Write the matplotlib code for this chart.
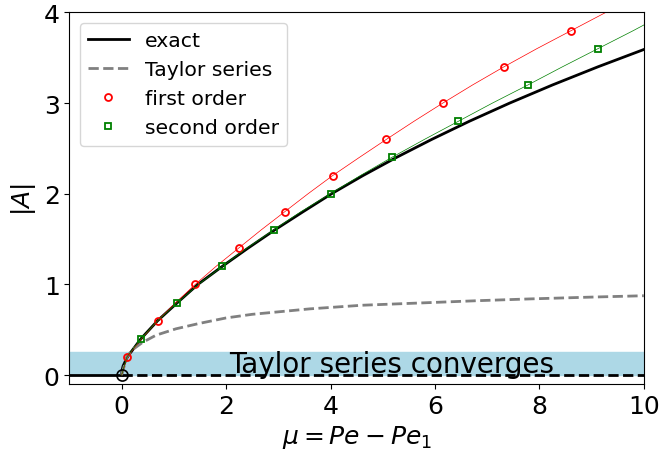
# %% load libraries
import numpy as np
import matplotlib.pyplot as plt

# %% data
# exact amplitude: |A| levels and the mu where the curve reaches them
exact_A = [0.0, 0.05, 0.1, 0.2, 0.4, 0.6, 0.8, 1.0, 1.2, 1.4, 1.6, 1.8,
           2.0, 2.2, 2.4, 2.6, 2.8, 3.0, 3.2, 3.4, 3.6]
exact_mu = [0.0, 0.007, 0.028, 0.11, 0.37, 0.69, 1.07, 1.46, 1.93, 2.42,
            2.93, 3.47, 4.02, 4.62, 5.26, 5.94, 6.66, 7.43, 8.25, 9.12,
            10.04]

# Taylor series (mu, |A|)
taylor_mu = [0.0, 0.1, 0.21, 0.4, 0.66, 1.04, 1.49, 2.0, 2.5, 3.6, 4.6,
             5.71, 6.8, 7.82, 9.0, 10.0]
taylor_A = [0.0, 0.2, 0.28, 0.36, 0.44, 0.51, 0.57, 0.63, 0.67, 0.73, 0.77,
            0.795, 0.82, 0.84, 0.86, 0.875]

# first order: |A| levels and mu
first_A = [0.0, 0.2, 0.4, 0.6, 0.8, 1.0, 1.2, 1.4, 1.6, 1.8, 2.0,
           2.2, 2.4, 2.6, 2.8, 3.0, 3.2, 3.4, 3.6, 3.8, 4.0]
first_mu = [0.0, 0.11, 0.38, 0.69, 1.04, 1.41, 1.81, 2.24, 2.67, 3.12, 3.57,
            4.04, 4.55, 5.07, 5.6, 6.15, 6.72, 7.32, 7.95, 8.61, 9.27]

# second order: |A| levels and mu
second_A = [0.0, 0.2, 0.4, 0.6, 0.8, 1.0, 1.2, 1.4, 1.6, 1.8, 2.0,
            2.2, 2.4, 2.6, 2.8, 3.0, 3.2, 3.4, 3.6, 3.8, 4.0]
second_mu = [0.0, 0.1, 0.37, 0.69, 1.07, 1.47, 1.93, 2.4, 2.91, 3.43, 4.0,
             4.57, 5.17, 5.8, 6.45, 7.1, 7.78, 8.44, 9.12, 9.8, 10.45]

# trivial branch
trivial_mu_stable = [-1.0, 0.0]
trivial_mu_unstable = [0.0, 10.0]

band_top = 0.25

# %% figure
fig, ax = plt.subplots(figsize=(6.61, 4.64), dpi=100)
fig.subplots_adjust(left=0.105, right=0.974, top=0.971, bottom=0.170)

ax.axhspan(0, band_top, color='lightblue', zorder=0)
ax.text(2.05, 0.03, 'Taylor series converges', fontsize=20, zorder=1)

ax.plot(trivial_mu_stable, [0, 0], 'k-', lw=2)
ax.plot(trivial_mu_unstable, [0, 0], 'k--', lw=2)

ax.plot(exact_mu, exact_A, 'k-', lw=2, label='exact')
ax.plot(taylor_mu, taylor_A, '--', color='gray', lw=2, label='Taylor series')

ax.plot(first_mu, first_A, 'r-', lw=0.5)
ax.plot(first_mu[1::2], first_A[1::2], 'o', color='r', mfc='none',
        ms=5, mew=1.3, ls='none', label='first order')
ax.plot(second_mu, second_A, 'g-', lw=0.5)
ax.plot(second_mu[2::2], second_A[2::2], 's', color='g', mfc='none',
        ms=5, mew=1.3, ls='none', label='second order')

ax.plot([0], [0], 'o', color='k', mfc='none', ms=8, mew=1.2)

ax.set_xlim(-1, 10)
ax.set_ylim(-0.1, 4)
ax.set_xticks([0, 2, 4, 6, 8, 10])
ax.set_yticks([0, 1, 2, 3, 4])
ax.tick_params(labelsize=18)
ax.set_xlabel(r'$\mu = Pe - Pe_1$', fontsize=18)
ax.set_ylabel(r'$|A|$', fontsize=18)
ax.legend(loc='upper left', fontsize=14.7)

plt.savefig('out.png', dpi=100)
